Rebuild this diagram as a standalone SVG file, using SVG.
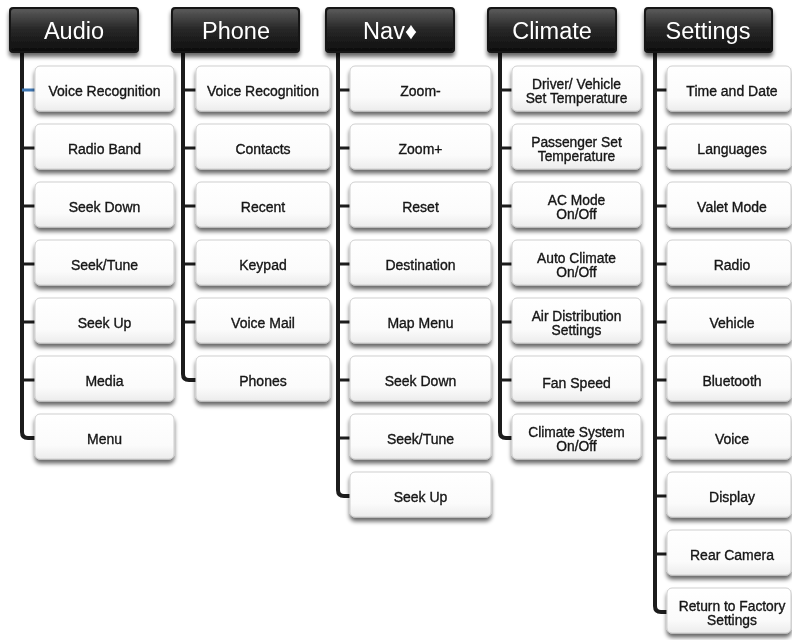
<svg xmlns="http://www.w3.org/2000/svg" width="792" height="640" viewBox="0 0 792 640">
<defs>
<linearGradient id="hdr" x1="0" y1="0" x2="0" y2="1">
<stop offset="0" stop-color="#5a5a5a"/>
<stop offset="0.45" stop-color="#2a2a2a"/>
<stop offset="1" stop-color="#0e0e0e"/>
</linearGradient>
<linearGradient id="box" x1="0" y1="0" x2="0" y2="1">
<stop offset="0" stop-color="#ffffff"/>
<stop offset="0.7" stop-color="#fbfbfb"/>
<stop offset="1" stop-color="#ececec"/>
</linearGradient>
<filter id="sh" x="-10%" y="-20%" width="120%" height="160%">
<feGaussianBlur in="SourceAlpha" stdDeviation="2"/>
<feOffset dx="0" dy="4" result="b"/>
<feComponentTransfer><feFuncA type="linear" slope="0.6"/></feComponentTransfer>
<feMerge><feMergeNode/><feMergeNode in="SourceGraphic"/></feMerge>
</filter>
</defs>
<style>
.h rect.o{fill:#151515}
.h rect.i{fill:url(#hdr)}
.h text{font-family:"Liberation Sans",Arial,sans-serif;font-size:23.5px;fill:#fff;text-anchor:middle}
.b rect{fill:url(#box);stroke:#cfcfcf;stroke-width:1}
.b text{font-family:"Liberation Sans",Arial,sans-serif;font-size:14px;fill:#151515;stroke:#151515;stroke-width:0.35;text-anchor:middle}
.b text.s{font-size:13.8px}
.c{fill:none;stroke:#1c1c1c;stroke-width:4}
.t{fill:none;stroke:#1c1c1c;stroke-width:3}
</style>
<g id="connectors">
<path class="c" d="M22,52 V432 Q22,438 28,438 H36"/>
<path class="t" d="M22,90 H36" style="stroke:#3f78b5"/>
<path class="t" d="M22,148 H36 M22,206 H36 M22,264 H36 M22,322 H36 M22,380 H36"/>
<path class="c" d="M183,52 V374 Q183,380 189,380 H197"/>
<path class="t" d="M183,90 H197 M183,148 H197 M183,206 H197 M183,264 H197 M183,322 H197"/>
<path class="c" d="M338,52 V490 Q338,496 344,496 H351"/>
<path class="t" d="M338,90 H351 M338,148 H351 M338,206 H351 M338,264 H351 M338,322 H351 M338,380 H351 M338,438 H351"/>
<path class="c" d="M500,52 V432 Q500,438 506,438 H513"/>
<path class="t" d="M500,90 H513 M500,148 H513 M500,206 H513 M500,264 H513 M500,322 H513 M500,380 H513"/>
<path class="c" d="M655,52 V606 Q655,612 661,612 H668"/>
<path class="t" d="M655,90 H668 M655,148 H668 M655,206 H668 M655,264 H668 M655,322 H668 M655,380 H668 M655,438 H668 M655,496 H668 M655,554 H668"/>
</g>
<g id="audio" class="h" filter="url(#sh)"><rect class="o" x="9" y="7" width="130" height="46" rx="4"/><rect class="i" x="11" y="9" width="126" height="42" rx="3"/><text x="74" y="39">Audio</text></g>
<g id="phone" class="h" filter="url(#sh)"><rect class="o" x="171" y="7" width="129" height="46" rx="4"/><rect class="i" x="173" y="9" width="125" height="42" rx="3"/><text x="236" y="39">Phone</text></g>
<g id="nav" class="h" filter="url(#sh)"><rect class="o" x="325" y="7" width="130" height="46" rx="4"/><rect class="i" x="327" y="9" width="126" height="42" rx="3"/><text x="390" y="39">Nav♦</text></g>
<g id="climate" class="h" filter="url(#sh)"><rect class="o" x="487" y="7" width="130" height="46" rx="4"/><rect class="i" x="489" y="9" width="126" height="42" rx="3"/><text x="552" y="39">Climate</text></g>
<g id="settings" class="h" filter="url(#sh)"><rect class="o" x="644" y="7" width="129" height="46" rx="4"/><rect class="i" x="646" y="9" width="125" height="42" rx="3"/><text x="708" y="39">Settings</text></g>

<g id="audio-voice" class="b" filter="url(#sh)"><rect x="35" y="66" width="139" height="45" rx="5"/><text x="104.5" y="96">Voice Recognition</text></g>
<g id="audio-radio" class="b" filter="url(#sh)"><rect x="35" y="124" width="139" height="45" rx="5"/><text x="104.5" y="154">Radio Band</text></g>
<g id="audio-seekdown" class="b" filter="url(#sh)"><rect x="35" y="182" width="139" height="45" rx="5"/><text x="104.5" y="212">Seek Down</text></g>
<g id="audio-seektune" class="b" filter="url(#sh)"><rect x="35" y="240" width="139" height="45" rx="5"/><text x="104.5" y="270">Seek/Tune</text></g>
<g id="audio-seekup" class="b" filter="url(#sh)"><rect x="35" y="298" width="139" height="45" rx="5"/><text x="104.5" y="328">Seek Up</text></g>
<g id="audio-media" class="b" filter="url(#sh)"><rect x="35" y="356" width="139" height="45" rx="5"/><text x="104.5" y="386">Media</text></g>
<g id="audio-menu" class="b" filter="url(#sh)"><rect x="35" y="414" width="139" height="45" rx="5"/><text x="104.5" y="444">Menu</text></g>

<g id="phone-voice" class="b" filter="url(#sh)"><rect x="196" y="66" width="134" height="45" rx="5"/><text x="263" y="96">Voice Recognition</text></g>
<g id="phone-contacts" class="b" filter="url(#sh)"><rect x="196" y="124" width="134" height="45" rx="5"/><text x="263" y="154">Contacts</text></g>
<g id="phone-recent" class="b" filter="url(#sh)"><rect x="196" y="182" width="134" height="45" rx="5"/><text x="263" y="212">Recent</text></g>
<g id="phone-keypad" class="b" filter="url(#sh)"><rect x="196" y="240" width="134" height="45" rx="5"/><text x="263" y="270">Keypad</text></g>
<g id="phone-voicemail" class="b" filter="url(#sh)"><rect x="196" y="298" width="134" height="45" rx="5"/><text x="263" y="328">Voice Mail</text></g>
<g id="phone-phones" class="b" filter="url(#sh)"><rect x="196" y="356" width="134" height="45" rx="5"/><text x="263" y="386">Phones</text></g>

<g id="nav-zoomout" class="b" filter="url(#sh)"><rect x="350" y="66" width="141" height="45" rx="5"/><text x="420.5" y="96">Zoom-</text></g>
<g id="nav-zoomin" class="b" filter="url(#sh)"><rect x="350" y="124" width="141" height="45" rx="5"/><text x="420.5" y="154">Zoom+</text></g>
<g id="nav-reset" class="b" filter="url(#sh)"><rect x="350" y="182" width="141" height="45" rx="5"/><text x="420.5" y="212">Reset</text></g>
<g id="nav-destination" class="b" filter="url(#sh)"><rect x="350" y="240" width="141" height="45" rx="5"/><text x="420.5" y="270">Destination</text></g>
<g id="nav-mapmenu" class="b" filter="url(#sh)"><rect x="350" y="298" width="141" height="45" rx="5"/><text x="420.5" y="328">Map Menu</text></g>
<g id="nav-seekdown" class="b" filter="url(#sh)"><rect x="350" y="356" width="141" height="45" rx="5"/><text x="420.5" y="386">Seek Down</text></g>
<g id="nav-seektune" class="b" filter="url(#sh)"><rect x="350" y="414" width="141" height="45" rx="5"/><text x="420.5" y="444">Seek/Tune</text></g>
<g id="nav-seekup" class="b" filter="url(#sh)"><rect x="350" y="472" width="141" height="45" rx="5"/><text x="420.5" y="502">Seek Up</text></g>

<g id="climate-driver" class="b" filter="url(#sh)"><rect x="512" y="66" width="129" height="45" rx="5"/><text class="s" x="576.5" y="89">Driver/ Vehicle</text><text class="s" x="576.5" y="103">Set Temperature</text></g>
<g id="climate-passenger" class="b" filter="url(#sh)"><rect x="512" y="124" width="129" height="45" rx="5"/><text class="s" x="576.5" y="147">Passenger Set</text><text class="s" x="576.5" y="161">Temperature</text></g>
<g id="climate-ac" class="b" filter="url(#sh)"><rect x="512" y="182" width="129" height="45" rx="5"/><text class="s" x="576.5" y="205">AC Mode</text><text class="s" x="576.5" y="219">On/Off</text></g>
<g id="climate-auto" class="b" filter="url(#sh)"><rect x="512" y="240" width="129" height="45" rx="5"/><text class="s" x="576.5" y="263">Auto Climate</text><text class="s" x="576.5" y="277">On/Off</text></g>
<g id="climate-air" class="b" filter="url(#sh)"><rect x="512" y="298" width="129" height="45" rx="5"/><text class="s" x="576.5" y="321">Air Distribution</text><text class="s" x="576.5" y="335">Settings</text></g>
<g id="climate-fan" class="b" filter="url(#sh)"><rect x="512" y="356" width="129" height="45" rx="5"/><text x="576.5" y="388">Fan Speed</text></g>
<g id="climate-system" class="b" filter="url(#sh)"><rect x="512" y="414" width="129" height="45" rx="5"/><text class="s" x="576.5" y="437">Climate System</text><text class="s" x="576.5" y="451">On/Off</text></g>

<g id="settings-time" class="b" filter="url(#sh)"><rect x="667" y="66" width="124" height="45" rx="5"/><text x="732" y="96">Time and Date</text></g>
<g id="settings-languages" class="b" filter="url(#sh)"><rect x="667" y="124" width="124" height="45" rx="5"/><text x="732" y="154">Languages</text></g>
<g id="settings-valet" class="b" filter="url(#sh)"><rect x="667" y="182" width="124" height="45" rx="5"/><text x="732" y="212">Valet Mode</text></g>
<g id="settings-radio" class="b" filter="url(#sh)"><rect x="667" y="240" width="124" height="45" rx="5"/><text x="732" y="270">Radio</text></g>
<g id="settings-vehicle" class="b" filter="url(#sh)"><rect x="667" y="298" width="124" height="45" rx="5"/><text x="732" y="328">Vehicle</text></g>
<g id="settings-bluetooth" class="b" filter="url(#sh)"><rect x="667" y="356" width="124" height="45" rx="5"/><text x="732" y="386">Bluetooth</text></g>
<g id="settings-voice" class="b" filter="url(#sh)"><rect x="667" y="414" width="124" height="45" rx="5"/><text x="732" y="444">Voice</text></g>
<g id="settings-display" class="b" filter="url(#sh)"><rect x="667" y="472" width="124" height="45" rx="5"/><text x="732" y="502">Display</text></g>
<g id="settings-camera" class="b" filter="url(#sh)"><rect x="667" y="530" width="124" height="45" rx="5"/><text x="732" y="560">Rear Camera</text></g>
<g id="settings-factory" class="b" filter="url(#sh)"><rect x="667" y="588" width="124" height="45" rx="5"/><text class="s" x="732" y="611">Return to Factory</text><text class="s" x="732" y="625">Settings</text></g>
</svg>
